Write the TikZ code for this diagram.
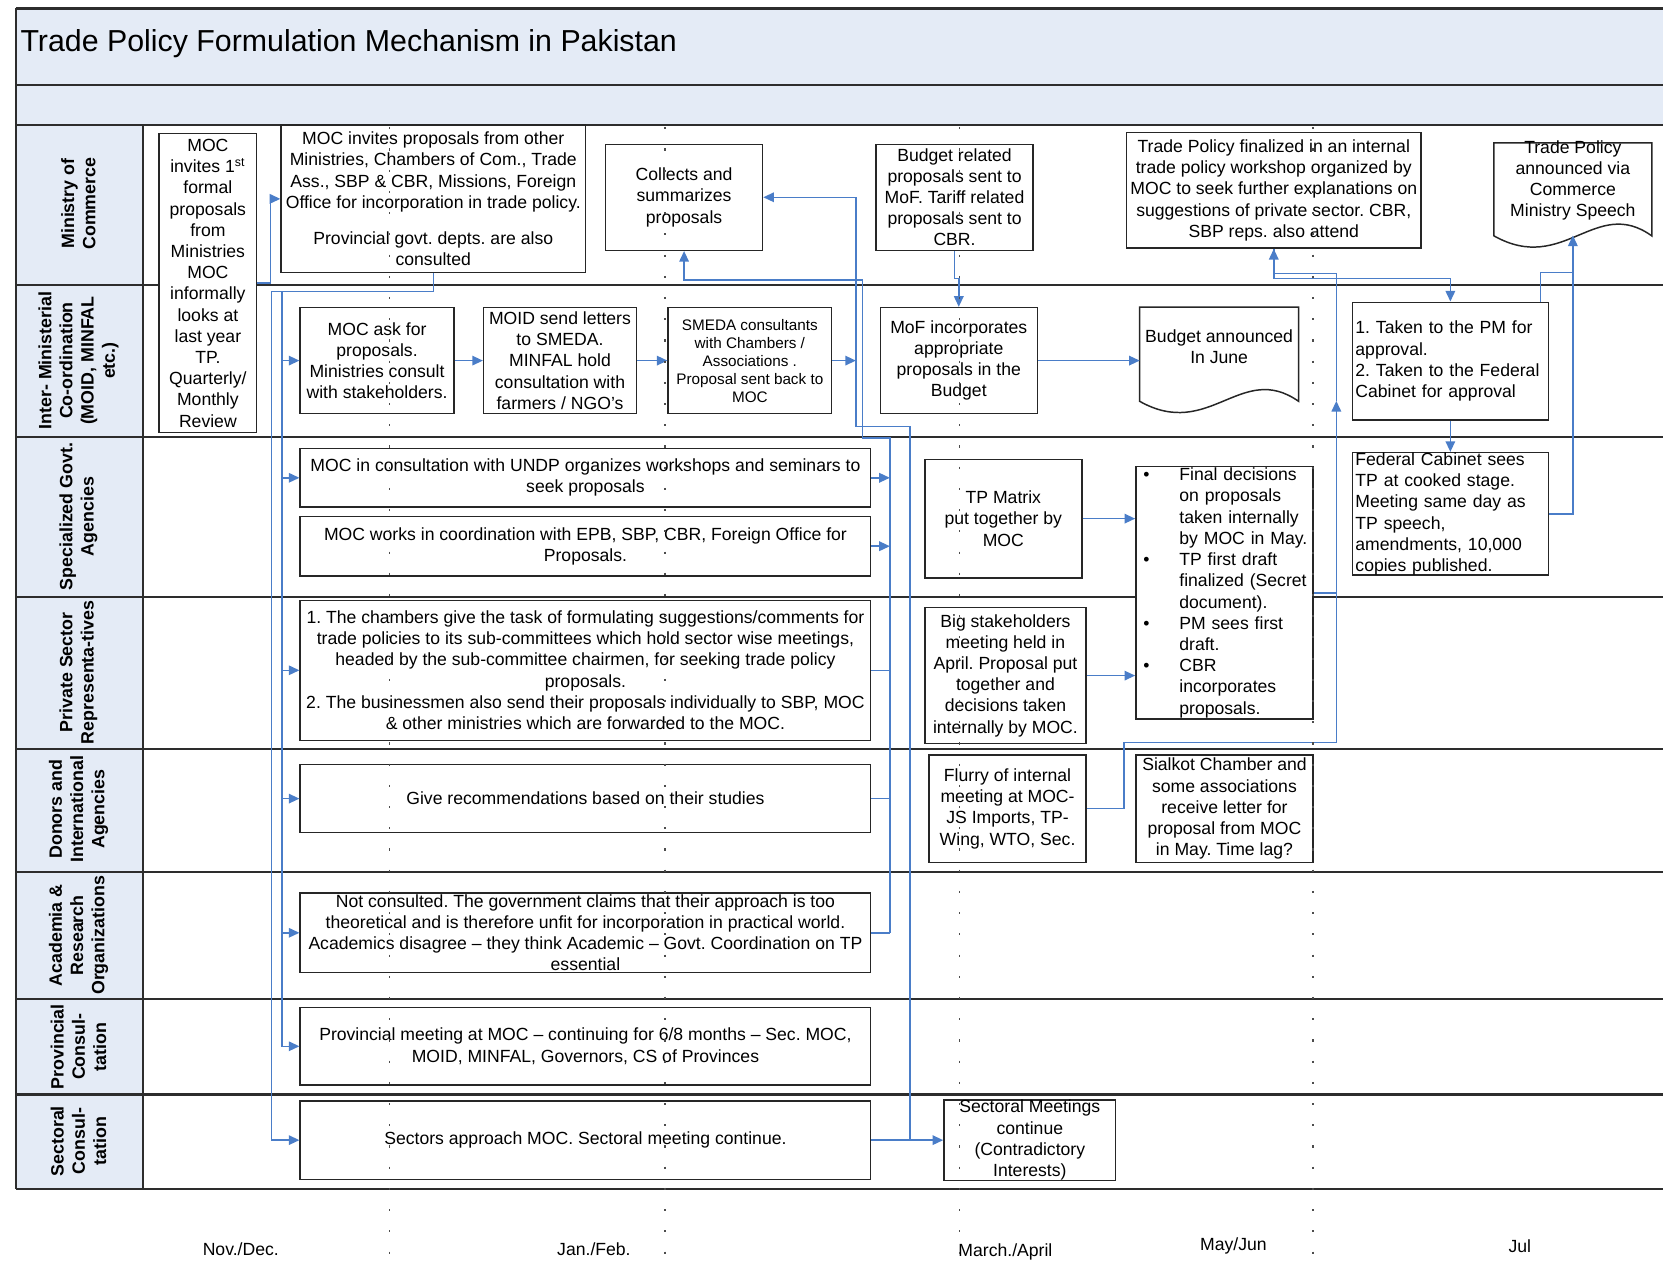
\documentclass[tikz,border=0pt]{standalone}
\usepackage{fontspec}
\setmainfont{Liberation Sans}
\usetikzlibrary{arrows.meta,calc}
\definecolor{bandblue}{RGB}{228,235,246}
\definecolor{conblue}{RGB}{74,125,200}
\definecolor{framegray}{RGB}{45,45,45}
\newcommand\pbul[1]{\mbox{\makebox[17pt][l]{\textbullet}#1}}
\newcommand\pind[1]{\mbox{\hspace*{17pt}#1}}
\frenchspacing
\begin{document}
\begin{tikzpicture}[x=0.5pt,y=-0.5pt,
  bx/.style={draw=black!85, line width=0.7pt, fill=white, inner sep=0pt, align=center, font=\fontsize{8.3}{10}\selectfont},
  bxl/.style={bx, align=left, inner xsep=1.5pt, text width=89.5pt},
  conn/.style={draw=conblue, line width=0.7pt},
  arr/.style={conn, -{Triangle[length=5pt,width=4.5pt]}},
  lane/.style={draw=framegray, line width=1pt},
  lbl/.style={rotate=90, align=center, font=\bfseries\fontsize{8.4}{10}\selectfont},
  month/.style={font=\fontsize{8.3}{10}\selectfont},
  tl/.style={dash pattern=on 1pt off 9pt, draw=black!70, line width=0.6pt},
  docline/.style={draw=black!85, line width=0.7pt, fill=white},
  txt/.style={align=center, inner sep=0pt, font=\fontsize{8.3}{10}\selectfont}
]
\useasboundingbox (0,0) rectangle (1568,1189);
\clip (0,0) rectangle (1568,1189);

% frame and bands
\fill[bandblue] (15,8) rectangle (1580,118);
\fill[bandblue] (15,118) rectangle (135,1121);
\draw[lane] (15,8) -- (1580,8);
\draw[lane] (15,80) -- (1580,80);
\draw[lane, line width=1.2pt] (15,118) -- (1580,118);
\foreach \yy in {269,412,563,706,822,942,1032}
  \draw[lane] (15,\yy) -- (1580,\yy);
\draw[lane] (15,1121) -- (1580,1121);
\draw[lane] (15,8) -- (15,1121);
\draw[lane] (135,118) -- (135,1121);

\node[anchor=west, inner sep=0pt, font=\fontsize{14.3}{17}\selectfont] (title) at (19,41) {Trade Policy Formulation Mechanism in Pakistan};

% lane labels
\node[lbl] (l1) at (74,192) {Ministry of\\Commerce};
\node[lbl] (l2) at (74,340) {Inter- Ministerial\\Co-ordination\\(MOID, MINFAL\\etc.)};
\node[lbl] (l3) at (74,487) {Specialized Govt.\\Agencies};
\node[lbl] (l4) at (74,634) {Private Sector\\Representa-tives};
\node[lbl] (l5) at (74,763) {Donors and\\International\\Agencies};
\node[lbl] (l6) at (74,882) {Academia \&\\Research\\Organizations};
\node[lbl] (l7) at (74,987) {Provincial\\Consul-\\tation};
\node[lbl] (l8) at (74,1076) {Sectoral\\Consul-\\tation};

% month labels
\node[month] (m1) at (227,1178) {Nov./Dec.};
\node[month] (m2) at (560,1178) {Jan./Feb.};
\node[month] (m3) at (948,1180) {March./April};
\node[month] (m4) at (1163,1175) {May/Jun};
\node[month] (m5) at (1433,1175) {Jul};

% boxes
\node[bx, minimum width=46pt, minimum height=141pt] (A) at (196,267) {MOC\\invites 1\textsuperscript{st}\\formal\\proposals\\from\\Ministries\\MOC\\informally\\looks at\\last year\\TP.\\Quarterly/\\Monthly\\Review};
\node[bx, minimum width=143.5pt, minimum height=69.5pt] (B) at (408.5,187.5) {MOC invites proposals from other\\Ministries, Chambers of Com., Trade\\Ass., SBP \& CBR, Missions, Foreign\\Office for incorporation in trade policy.\\[7pt]Provincial govt. depts. are also\\consulted};
\node[bx, minimum width=74pt, minimum height=50pt] (C) at (645,186) {Collects and\\summarizes\\proposals};
\node[bx, minimum width=74pt, minimum height=50pt] (D) at (900,186) {Budget related\\proposals sent to\\MoF. Tariff related\\proposals sent to\\CBR.};
\node[bx, minimum width=139pt, minimum height=54.5pt] (E) at (1201,179.5) {Trade Policy finalized in an internal\\trade policy workshop organized by\\MOC to seek further explanations on\\suggestions of private sector. CBR,\\SBP reps. also attend};

% document shape F
\node[inner sep=0pt, minimum width=74pt, minimum height=43.5pt] (F) at (1483,178.5) {};
\draw[docline] (F.south west) -- (F.north west) -- (F.north east) -- (F.south east)
  .. controls ($(F.south east)+(-53,-38)$) and ($(F.south east)+(-83,37)$) .. (F.south west) -- cycle;
\node[txt] (Ft) at (1483,170) {Trade Policy\\announced via\\Commerce\\Ministry Speech};

\node[bx, minimum width=72.5pt, minimum height=50pt] (G) at (355.5,340) {MOC ask for\\proposals.\\Ministries consult\\with stakeholders.};
\node[bx, minimum width=72pt, minimum height=50pt] (H) at (528,340) {MOID send letters\\to SMEDA.\\MINFAL hold\\consultation with\\farmers / NGO's};
\node[bx, minimum width=77pt, minimum height=50pt, font=\fontsize{7.2}{8.5}\selectfont] (I) at (707,340) {SMEDA consultants\\with Chambers /\\Associations .\\Proposal sent back to\\MOC};
\node[bx, minimum width=74pt, minimum height=50pt] (J) at (904,340) {MoF incorporates\\appropriate\\proposals in the\\Budget};

% document shape K
\node[inner sep=0pt, minimum width=74.5pt, minimum height=44pt] (K) at (1149.5,334) {};
\draw[docline] (K.south west) -- (K.north west) -- (K.north east) -- (K.south east)
  .. controls ($(K.south east)+(-54,-38)$) and ($(K.south east)+(-84,37)$) .. (K.south west) -- cycle;
\node[txt] (Kt) at (1149.5,327) {Budget announced\\In June};

\node[bxl, minimum width=92.5pt, minimum height=55.5pt] (L) at (1367.5,340.5) {1. Taken to the PM for\\approval.\\2. Taken to the Federal\\Cabinet for approval};

\node[bx, minimum width=269pt, minimum height=27.5pt] (M) at (552,450.5) {MOC in consultation with UNDP organizes workshops and seminars to\\seek proposals};
\node[bx, minimum width=269pt, minimum height=28pt] (N) at (552,515) {MOC works in coordination with EPB, SBP, CBR, Foreign Office for\\Proposals.};
\node[bx, minimum width=74pt, minimum height=56pt] (O) at (946,489) {TP Matrix\\put together by\\MOC};
\node[bx, align=left, inner xsep=3.5pt, text width=76.5pt, minimum width=83.5pt, minimum height=119pt] (P) at (1154.5,559) {\pbul{Final decisions}\\\pind{on proposals}\\\pind{taken internally}\\\pind{by MOC in May.}\\\pbul{TP first draft}\\\pind{finalized (Secret}\\\pind{document).}\\\pbul{PM sees first}\\\pind{draft.}\\\pbul{CBR}\\\pind{incorporates}\\\pind{proposals.}};
\node[bxl, minimum width=92.5pt, minimum height=56.5pt] (Q) at (1367.5,484.5) {Federal Cabinet sees\\TP at cooked stage.\\Meeting same day as\\TP speech,\\amendments, 10,000\\copies published.};

\node[bx, minimum width=269pt, minimum height=66pt] (R) at (552,632) {1. The chambers give the task of formulating suggestions/comments for\\trade policies to its sub-committees which hold sector wise meetings,\\headed by the sub-committee chairmen, for seeking trade policy\\proposals.\\2. The businessmen also send their proposals individually to SBP, MOC\\\& other ministries which are forwarded to the MOC.};
\node[bx, minimum width=76pt, minimum height=64pt] (S) at (948,637) {Big stakeholders\\meeting held in\\April. Proposal put\\together and\\decisions taken\\internally by MOC.};

\node[bx, minimum width=269pt, minimum height=32pt] (T) at (552,753) {Give recommendations based on their studies};
\node[bx, minimum width=74pt, minimum height=50.5pt] (U) at (950,762.5) {Flurry of internal\\meeting at MOC-\\JS Imports, TP-\\Wing, WTO, Sec.};
\node[bx, minimum width=83.5pt, minimum height=50.5pt] (V) at (1154.5,762.5) {Sialkot Chamber and\\some associations\\receive letter for\\proposal from MOC\\in May. Time lag?};

\node[bx, minimum width=269pt, minimum height=37.5pt] (W) at (552,879.5) {Not consulted. The government claims that their approach is too\\theoretical and is therefore unfit for incorporation in practical world.\\Academics disagree – they think Academic – Govt. Coordination on TP\\essential};
\node[bx, minimum width=269pt, minimum height=36.5pt] (X) at (552,986.5) {Provincial meeting at MOC – continuing for 6/8 months – Sec. MOC,\\MOID, MINFAL, Governors, CS of Provinces};
\node[bx, minimum width=269pt, minimum height=37pt] (Y) at (552,1075) {Sectors approach MOC. Sectoral meeting continue.};
\node[bx, minimum width=81pt, minimum height=38pt] (Z) at (971,1075) {Sectoral Meetings\\continue\\(Contradictory\\Interests)};

% connectors
\coordinate (a1) at (255,267);
\draw[arr] (A.east) -- (a1) |- (B.west);

\coordinate (b1) at (256,275);
\coordinate (b2) at (266,275);
\draw[arr] (B.south) |- (b1) |- (Y.west);
\draw[arr] (b2) |- (X.west);
\foreach \n in {G,M,R,T,W} \draw[arr] (b2 |- \n.west) -- (\n.west);

\draw[arr] (G.east) -- (H.west);
\draw[arr] (H.east) -- (I.west);
\coordinate (c1) at (807,340);
\draw[arr] (I.east) -- (c1);

\coordinate (c2) at (858,1075);
\coordinate (c3) at (807,402);
\draw[arr] (c2) |- (c3) |- (C.east);
\draw[arr] (Y.east) -- (Z.west);

\coordinate (d1) at (839,879.5);
\coordinate (d2) at (813,413);
\coordinate (d3) at (813,264);
\draw[arr] (d1) |- (d2) -- (d3) -| (C.south);
\foreach \n in {M,N} \draw[arr] (\n.east) -- (\n.east -| d1);
\foreach \n in {R,T,W} \draw[conn] (\n.east) -- (\n.east -| d1);

\draw[arr] (D.south) -- ++(0,26) -| (J.north);
\draw[arr] (J.east) -- (J.east -| K.west);
\draw[arr] (O.east) -- (O.east -| P.west);
\draw[arr] (S.east) -- (S.east -| P.west);

\coordinate (e1) at (1060,700);
\coordinate (e2) at (1260,378);
\coordinate (e3) at (1260,258);
\draw[arr] (U.east) -| (e1) -| (e2);
\draw[arr] (e2) -- (e3) -| (E.south);
\draw[conn] (P.east) -- (P.east -| e2);

\draw[arr] (E.south) -- ++(0,28) -| (L.north);
\draw[arr] (L.south) -- (Q.north);
\coordinate (f1) at (1483,222);
\coordinate (f2) at (1483,257);
\draw[arr] (Q.east) -| (f1);
\draw[conn] ($(L.north east)+(-8,0)$) |- (f2);

% timeline dotted lines
\foreach \xx in {367,627,905,1238}
  \draw[tl] (\xx,120) -- (\xx,1185);
\end{tikzpicture}
\end{document}
